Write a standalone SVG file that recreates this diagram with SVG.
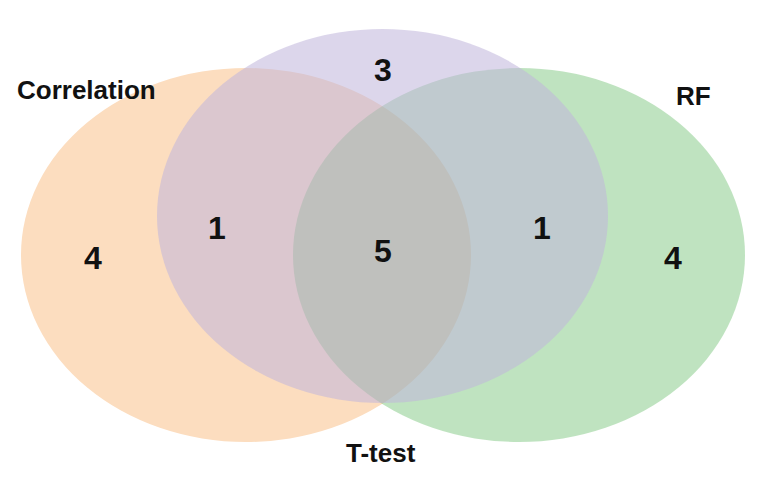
<svg xmlns="http://www.w3.org/2000/svg" width="765" height="489" viewBox="0 0 765 489">
  <style>
    .lbl { font-family: "Liberation Sans", Arial, sans-serif; font-weight: bold; font-size: 26px; fill: #111; }
    .num { font-family: "Liberation Sans", Arial, sans-serif; font-weight: bold; font-size: 32px; fill: #111; text-anchor: middle; }
  </style>
  <rect width="765" height="489" fill="#ffffff"/>
  <g id="set-correlation">
    <ellipse cx="246" cy="255" rx="225" ry="187" fill="#FCDDBF"/>
  </g>
  <g id="set-rf">
    <ellipse cx="519" cy="255" rx="226" ry="187" fill="#48AF4B" fill-opacity="0.35"/>
  </g>
  <g id="set-ttest">
    <ellipse cx="382.5" cy="216" rx="225.5" ry="187" fill="#C1B6DB" fill-opacity="0.56"/>
  </g>
  <g id="connectors"></g>
  <g id="labels">
    <text class="lbl" x="17" y="99">Correlation</text>
    <text class="lbl" x="676" y="105">RF</text>
    <text class="lbl" x="346" y="462">T-test</text>
  </g>
  <g id="counts">
    <text class="num" x="383" y="81">3</text>
    <text class="num" x="217" y="239">1</text>
    <text class="num" x="93" y="269">4</text>
    <text class="num" x="383" y="262">5</text>
    <text class="num" x="542" y="239">1</text>
    <text class="num" x="673" y="269">4</text>
  </g>
</svg>
